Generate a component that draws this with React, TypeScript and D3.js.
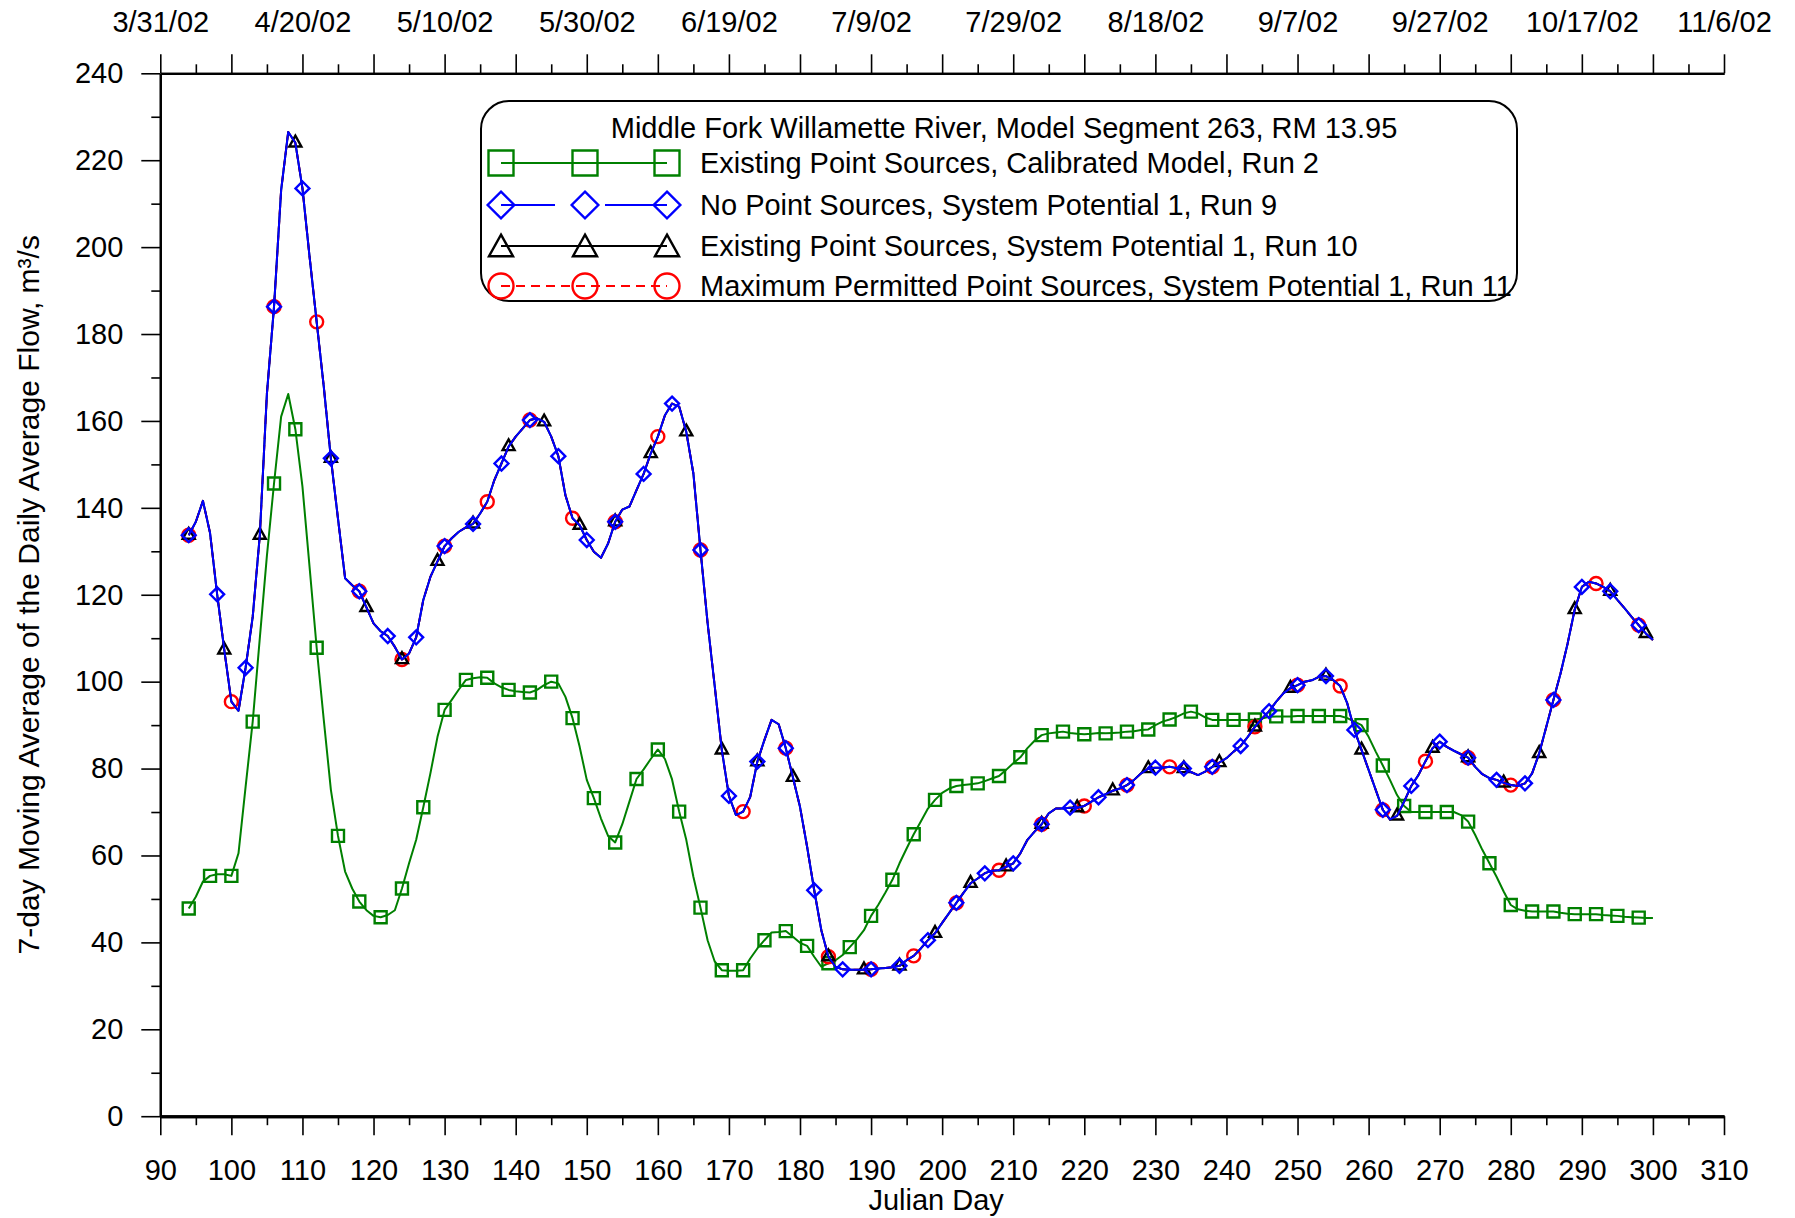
import { useEffect, useRef } from 'react';
import * as d3 from 'd3';

// Middle Fork Willamette River, segment 263 — 7-day average flow by Julian day (2002).
// Daily model output, days 94..300. Runs 9/10/11 are indistinguishable at this scale.

const WIDTH  = 1795;
const HEIGHT = 1218;
const PLOT   = { left: 160.3, right: 1724, top: 73.3, bottom: 1116.2 };
const FONT   = "'Liberation Sans', Arial, sans-serif";
const FS     = 29;

const FIRST_DAY = 94;

const RUN2_FLOW = [
  47.8, 50.5, 54.0, 55.3, 55.7, 55.7, 55.3, 60.5, 75.8, 90.8,            // 94-103
  110.0, 129.0, 145.6, 161.0, 166.2, 158.1, 144.9, 126.4, 107.8, 91.2,   // 104-113
  75.1, 64.5, 56.3, 52.4, 49.4, 47.4, 46.1, 45.8, 46.3, 47.4,            // 114-123
  52.4, 58.2, 63.6, 71.1, 78.9, 87.3, 93.5, 95.8, 98.2, 100.4,           // 124-133
  100.8, 101.0, 100.9, 99.6, 98.7, 98.1, 97.8, 97.6, 97.5, 98.1,         // 134-143
  99.2, 100.0, 99.6, 96.5, 91.6, 85.0, 77.4, 73.2, 68.5, 64.5,           // 144-153
  63.0, 67.2, 72.4, 77.6, 79.8, 82.2, 84.4, 82.2, 77.5, 70.1,            // 154-163
  63.6, 55.1, 48.0, 40.5, 35.6, 33.6, 33.5, 33.5, 33.6, 36.3,            // 164-173
  38.6, 40.5, 42.3, 42.4, 42.6, 41.3, 39.9, 39.2, 36.7, 34.4,            // 174-183
  35.2, 35.9, 37.1, 38.9, 40.7, 42.8, 46.1, 48.6, 51.4, 54.4,            // 184-193
  58.2, 61.6, 64.9, 67.8, 70.8, 72.8, 74.4, 75.4, 76.0, 76.2,            // 194-203
  76.4, 76.6, 77.1, 77.7, 78.3, 79.7, 81.2, 82.6, 84.7, 86.4,            // 204-213
  87.7, 88.1, 88.3, 88.5, 88.2, 88.0, 87.9, 88.0, 88.2, 88.1,            // 214-223
  88.2, 88.3, 88.5, 88.6, 88.9, 89.0, 90.0, 90.8, 91.3, 91.9,            // 224-233
  92.7, 93.1, 92.7, 91.8, 91.2, 91.2, 91.2, 91.2, 91.2, 91.2,            // 234-243
  91.3, 91.5, 91.9, 92.0, 92.0, 92.0, 92.1, 92.1, 92.1, 92.1,            // 244-253
  92.1, 92.1, 92.1, 91.6, 90.8, 90.0, 87.3, 83.9, 80.7, 77.4,            // 254-263
  73.9, 71.4, 70.0, 70.0, 70.0, 70.0, 70.0, 70.0, 70.0, 69.3,            // 264-273
  67.8, 64.7, 61.3, 58.2, 55.1, 51.7, 48.6, 47.6, 47.3, 47.1,            // 274-283
  47.1, 47.1, 47.1, 46.8, 46.6, 46.5, 46.5, 46.5, 46.5, 46.3,            // 284-293
  46.2, 46.1, 45.9, 45.8, 45.7, 45.6, 45.6,                              // 294-300
];

const SYSTEM_POTENTIAL_FLOW = [
  133.7, 136.8, 141.6, 134.2, 120.1, 107.3, 95.4, 93.3, 103.2, 114.9,    // 94-103
  133.7, 166.3, 186.3, 213.1, 226.5, 224.0, 213.5, 197.8, 182.8, 167.9,  // 104-113
  151.4, 137.5, 123.8, 122.2, 120.8, 117.1, 113.4, 111.6, 110.5, 108.0,  // 114-123
  105.1, 106.5, 110.2, 118.8, 124.1, 127.7, 131.2, 133.0, 134.5, 135.5,  // 124-133
  136.3, 138.7, 141.4, 146.4, 150.2, 154.1, 156.4, 158.3, 160.2, 160.6,  // 134-143
  159.8, 156.4, 151.9, 142.9, 137.6, 136.0, 132.6, 129.9, 128.5, 131.8,  // 144-153
  136.8, 139.6, 140.3, 144.1, 147.8, 152.5, 156.4, 161.3, 164.0, 163.3,  // 154-163
  157.5, 147.9, 130.3, 113.5, 99.0, 84.3, 73.7, 69.3, 70.1, 73.5,        // 164-173
  81.6, 86.6, 91.2, 90.2, 84.7, 78.0, 71.2, 62.0, 52.0, 42.8,            // 174-183
  36.7, 34.4, 33.8, 33.7, 33.7, 33.7, 33.8, 34.0, 34.1, 34.3,            // 184-193
  34.6, 35.9, 36.9, 38.6, 40.5, 42.1, 44.5, 46.8, 49.1, 51.4,            // 194-203
  53.6, 54.7, 55.9, 56.5, 56.6, 57.4, 58.2, 60.5, 63.6, 65.5,            // 204-213
  67.2, 69.7, 70.8, 70.8, 71.0, 71.0, 71.4, 72.4, 73.4, 74.1,            // 214-223
  74.9, 75.4, 76.2, 77.4, 78.9, 80.0, 80.2, 80.2, 80.4, 80.1,            // 224-233
  80.0, 79.2, 78.5, 79.3, 80.4, 81.4, 82.4, 83.9, 85.2, 87.3,            // 234-243
  89.6, 91.5, 93.2, 95.4, 97.3, 98.5, 99.2, 100.0, 100.3, 101.1,         // 244-253
  101.3, 100.4, 99.0, 95.0, 88.9, 84.3, 79.7, 75.1, 70.5, 68.3,          // 254-263
  69.1, 72.4, 76.0, 78.5, 81.7, 84.7, 86.2, 85.0, 84.1, 83.3,            // 264-273
  82.5, 80.4, 78.7, 77.8, 77.4, 76.7, 76.2, 76.0, 76.6, 78.9,            // 274-283
  83.5, 89.6, 95.8, 101.9, 108.8, 116.6, 121.8, 123.0, 122.6, 121.8,     // 284-293
  120.8, 118.8, 116.9, 114.9, 113.0, 111.1, 109.6,                       // 294-300
];

const TOP_DATE_DAYS   = [90, 110, 130, 150, 170, 190, 210, 230, 250, 270, 290, 310];
const TOP_DATE_LABELS = ['3/31/02', '4/20/02', '5/10/02', '5/30/02', '6/19/02', '7/9/02',
                         '7/29/02', '8/18/02', '9/7/02', '9/27/02', '10/17/02', '11/6/02'];

const X_MAJOR = d3.range(90, 311, 10);
const X_MINOR = d3.range(95, 310, 10);
const Y_MAJOR = d3.range(0, 241, 20);
const Y_MINOR = d3.range(10, 240, 20);

type Marker = 'square' | 'diamond' | 'triangle' | 'circle';

interface Series {
  label:  string;
  color:  string;
  values: number[];
  every:  number;     // marker spacing in days
  marker: Marker;
  dash?:  string;
}

// legend order
const SERIES: Series[] = [
  { label: 'Existing Point Sources, Calibrated Model, Run 2',            color: '#008000', values: RUN2_FLOW,             every: 3, marker: 'square' },
  { label: 'No Point Sources, System Potential 1, Run 9',                color: '#0000ff', values: SYSTEM_POTENTIAL_FLOW, every: 4, marker: 'diamond' },
  { label: 'Existing Point Sources, System Potential 1, Run 10',         color: '#000000', values: SYSTEM_POTENTIAL_FLOW, every: 5, marker: 'triangle' },
  { label: 'Maximum Permitted Point Sources, System Potential 1, Run 11', color: '#ff0000', values: SYSTEM_POTENTIAL_FLOW, every: 6, marker: 'circle', dash: '9 6' },
];
const DRAW_ORDER = [0, 3, 2, 1];

function markerPath(m: Marker, x: number, y: number, s: number) {
  switch (m) {
    case 'square':
      return `M${x - s / 2},${y - s / 2}h${s}v${s}h${-s}Z`;
    case 'diamond': {
      const r = s * 0.58;
      return `M${x},${y - r}L${x + r},${y}L${x},${y + r}L${x - r},${y}Z`;
    }
    case 'triangle': {
      const h = s * 0.9;
      return `M${x},${y - (2 * h) / 3}L${x + s / 2},${y + h / 3}L${x - s / 2},${y + h / 3}Z`;
    }
    default: {
      const r = s / 2;
      return `M${x - r},${y}a${r},${r} 0 1,0 ${2 * r},0a${r},${r} 0 1,0 ${-2 * r},0Z`;
    }
  }
}

export default function App() {
  const leftRef   = useRef<SVGGElement>(null);
  const bottomRef = useRef<SVGGElement>(null);
  const topRef    = useRef<SVGGElement>(null);

  const x = d3.scaleLinear().domain([90, 310]).range([PLOT.left, PLOT.right]);
  const y = d3.scaleLinear().domain([0, 240]).range([PLOT.bottom, PLOT.top]);

  // ── Axes ──
  useEffect(() => {
    const style = (g: d3.Selection<SVGGElement, unknown, null, undefined>, domainW: number) => {
      g.selectAll('g').attr('font-family', FONT).attr('font-size', FS);
      g.selectAll('.domain').attr('stroke', '#000').attr('stroke-width', domainW);
      g.selectAll('.tick line').attr('stroke', '#000').attr('stroke-width', 1.6);
      g.selectAll('text').attr('fill', '#000').attr('font-size', FS).attr('font-family', FONT);
    };

    const left = d3.select(leftRef.current!);
    left.selectAll('*').remove();
    left.append('g').call(d3.axisLeft(y).tickValues(Y_MINOR).tickSize(9).tickSizeOuter(0).tickFormat(() => ''));
    left.append('g').call(d3.axisLeft(y).tickValues(Y_MAJOR).tickSize(19).tickSizeOuter(0).tickPadding(18));
    style(left as any, 2.2);

    const bottom = d3.select(bottomRef.current!);
    bottom.selectAll('*').remove();
    bottom.append('g').call(d3.axisBottom(x).tickValues(X_MINOR).tickSize(9).tickSizeOuter(0).tickFormat(() => ''));
    bottom.append('g').call(d3.axisBottom(x).tickValues(X_MAJOR).tickSize(19).tickSizeOuter(0).tickPadding(24));
    style(bottom as any, 3);

    const top = d3.select(topRef.current!);
    top.selectAll('*').remove();
    top.append('g').call(d3.axisTop(x).tickValues(X_MINOR).tickSize(9).tickSizeOuter(0).tickFormat(() => ''));
    top.append('g').call(
      d3.axisTop(x).tickValues(X_MAJOR).tickSize(19).tickSizeOuter(0).tickPadding(22)
        .tickFormat((d) => {
          const i = TOP_DATE_DAYS.indexOf(d as number);
          return i >= 0 ? TOP_DATE_LABELS[i] : '';
        }),
    );
    style(top as any, 2.2);
  }, []);

  const line = d3.line<number>()
    .x((_, i) => x(FIRST_DAY + i))
    .y((v) => y(v));

  // legend geometry
  const LG = { x: 481, y: 101, w: 1036, h: 200, r: 28 };
  const symX = [501, 585, 667];
  const rowY = [163, 205, 246, 286];

  return (
    <svg
      width={WIDTH}
      height={HEIGHT}
      style={{ position: 'absolute', left: 0, top: 0, background: '#fff' }}
      fontFamily={FONT}
    >
      <rect width={WIDTH} height={HEIGHT} fill="#fff" />

      {/* Series lines + markers */}
      {DRAW_ORDER.map((si) => {
        const s = SERIES[si];
        const ms = s.marker === 'circle' ? 13 : 12;
        return (
          <g key={s.label}>
            <path
              d={line(s.values) ?? ''}
              fill="none"
              stroke={s.color}
              strokeWidth={2}
              strokeDasharray={s.dash}
              strokeLinejoin="round"
            />
            {s.values.map((v, i) =>
              i % s.every === 0 ? (
                <path
                  key={i}
                  d={markerPath(s.marker, x(FIRST_DAY + i), y(v), ms)}
                  fill="none"
                  stroke={s.color}
                  strokeWidth={2.4}
                />
              ) : null,
            )}
          </g>
        );
      })}

      {/* Axes */}
      <g ref={leftRef} transform={`translate(${PLOT.left},0)`} />
      <g ref={bottomRef} transform={`translate(0,${PLOT.bottom})`} />
      <g ref={topRef} transform={`translate(0,${PLOT.top})`} />

      {/* Axis titles */}
      <text x={(PLOT.left + PLOT.right) / 2 - 6} y={1210} textAnchor="middle" fontSize={FS}>
        Julian Day
      </text>
      <text
        transform={`translate(39,${(PLOT.top + PLOT.bottom) / 2}) rotate(-90)`}
        textAnchor="middle"
        fontSize={30}
      >
        7-day Moving Average of the Daily Average Flow, m³/s
      </text>

      {/* Legend */}
      <rect x={LG.x} y={LG.y} width={LG.w} height={LG.h} rx={LG.r} ry={LG.r} fill="#fff" stroke="#000" strokeWidth={2} />
      <text x={1004} y={138} textAnchor="middle" fontSize={FS}>
        Middle Fork Willamette River, Model Segment 263, RM 13.95
      </text>
      {SERIES.map((s, k) => {
        const cy = rowY[k];
        const size = s.marker === 'triangle' ? 24 : s.marker === 'diamond' ? 23 : 25;
        const segs = s.marker === 'diamond'
          ? [[symX[0], symX[1] - 30], [symX[1] + 20, symX[2]]]
          : [[symX[0], symX[2]]];
        return (
          <g key={s.label}>
            {segs.map(([a, b], j) => (
              <line key={j} x1={a} x2={b} y1={cy} y2={cy} stroke={s.color} strokeWidth={2} strokeDasharray={s.dash} />
            ))}
            {symX.map((sx) => (
              <path key={sx} d={markerPath(s.marker, sx, cy + (s.marker === 'triangle' ? 3 : 0), size)} fill="none" stroke={s.color} strokeWidth={2.4} />
            ))}
            <text x={700} y={cy + 10} fontSize={FS}>{s.label}</text>
          </g>
        );
      })}
    </svg>
  );
}
